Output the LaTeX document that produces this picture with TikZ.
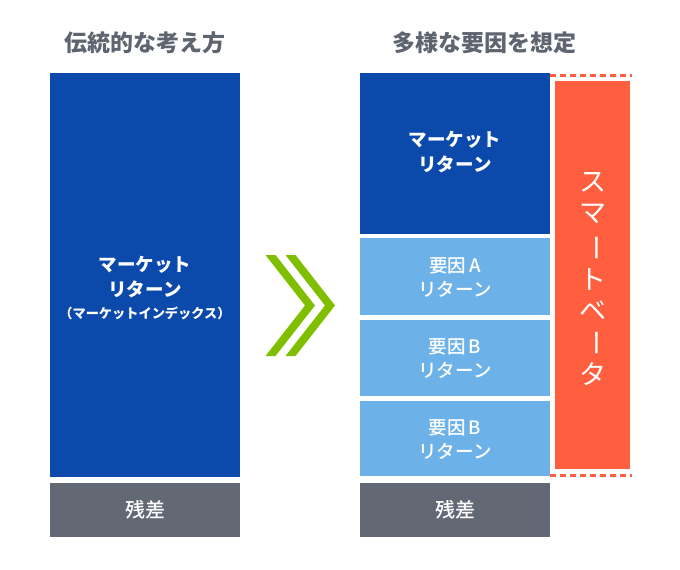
\documentclass[tikz,border=0pt]{standalone}
\usepackage{fontspec}
\setmainfont{Noto Sans CJK JP}
\newfontfamily\jpfont{Noto Sans CJK JP}
\newfontfamily\jpmed{Noto Sans CJK JP Medium}
\definecolor{dblue}{HTML}{0B4AAB}
\definecolor{lblue}{HTML}{6CB2E8}
\definecolor{resgray}{HTML}{626874}
\definecolor{hgray}{HTML}{5E6570}
\definecolor{sorange}{HTML}{FF5F3F}
\definecolor{chev}{HTML}{80BE00}
\tikzset{
  x=1pt,y=-1pt,
  boxtxt/.style={text=white,align=center,font=\jpmed\fontsize{18.5}{24}\selectfont},
  boldtxt/.style={text=white,align=center,font=\jpfont\bfseries\fontsize{18.5}{25}\selectfont},
  head/.style={text=hgray,font=\jpfont\bfseries\fontsize{23}{26}\selectfont},
  dashline/.style={draw=sorange,line width=3pt,dash pattern=on 6pt off 4pt},
}
\begin{document}
\begin{tikzpicture}
\useasboundingbox (0,0) rectangle (680,570);
% headers
\node[head] (h1) at (145,43) {伝統的な考え方};
\node[head] (h2) at (484,43) {多様な要因を想定};
% left column
\fill[dblue] (50,73) rectangle (240,477);
\fill[resgray] (50,483) rectangle (240,537);
\node[boldtxt] (lm) at (145,277) {マーケット\\リターン};
\node[text=white,font=\jpfont\bfseries\fontsize{13.2}{15}\selectfont] (li) at (145,313) {（マーケットインデックス）};
\node[boxtxt,font=\jpmed\fontsize{20}{24}\selectfont] (lr) at (145,510) {残差};
% chevrons
\fill[chev] (265.5,255) -- (275.5,255) -- (315,305.5) -- (275.5,356) -- (265.5,356) -- (305,305.5) -- cycle;
\fill[chev] (285.5,255) -- (295.5,255) -- (335,305.5) -- (295.5,356) -- (285.5,356) -- (325,305.5) -- cycle;
% right column
\fill[dblue] (360,73) rectangle (550,234);
\fill[lblue] (360,238) rectangle (550,315);
\fill[lblue] (360,320) rectangle (550,396);
\fill[lblue] (360,401) rectangle (550,476);
\fill[resgray] (360,483) rectangle (550,537);
\node[boldtxt] (rm) at (455,152) {マーケット\\リターン};
\node[boxtxt] (ra) at (455,278) {要因\hspace{3pt}A\\リターン};
\node[boxtxt] (rb) at (455,359) {要因\hspace{3pt}B\\リターン};
\node[boxtxt] (rc) at (455,440) {要因\hspace{3pt}B\\リターン};
\node[boxtxt,font=\jpmed\fontsize{20}{24}\selectfont] (rr) at (455,510) {残差};
% smart beta
\fill[sorange] (555,81) rectangle (630,469);
\draw[dashline] (550,75) -- (632,75);
\draw[dashline] (550,475) -- (632,475);
\begin{scope}[every node/.style={text=white,font=\jpfont\fontsize{27}{27}\selectfont,inner sep=0pt}]
\node (s1) at (592.5,182) {ス};
\node (s2) at (592.5,214) {マ};
\node[rotate=-90] (s3) at (592.5,248) {ー};
\node (s4) at (592.5,279) {ト};
\node (s5) at (592.5,311) {ベ};
\node[rotate=-90] (s6) at (592.5,343) {ー};
\node (s7) at (592.5,374) {タ};
\end{scope}
\end{tikzpicture}
\end{document}
